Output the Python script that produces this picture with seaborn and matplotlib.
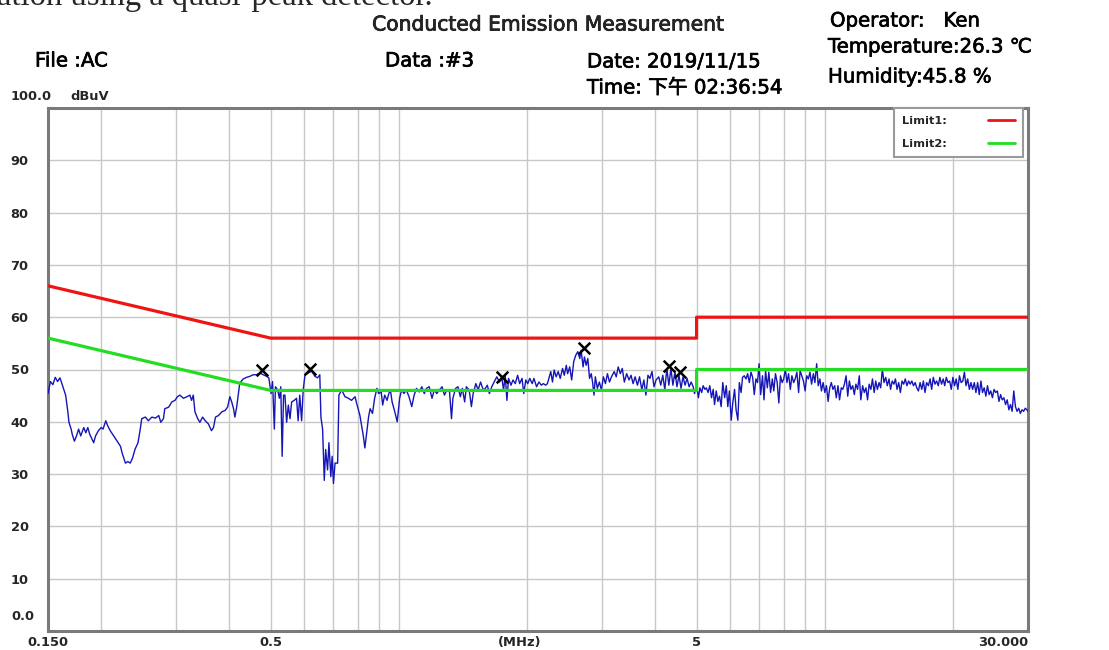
import matplotlib
matplotlib.use("Agg")
import matplotlib.pyplot as plt
import matplotlib.patheffects as pe
from matplotlib.lines import Line2D
from matplotlib.ticker import LogLocator, NullFormatter
import seaborn as sns
import pandas as pd

scan_low = [
    (0.150, 45.4), (0.152, 47.7), (0.154, 47.1), (0.156, 48.5), (0.158, 47.7), (0.160, 48.4), (0.162, 47.1),
    (0.165, 45.1), (0.167, 41.9), (0.168, 39.9), (0.170, 38.6), (0.171, 37.6), (0.173, 36.3), (0.175, 37.3),
    (0.177, 38.6), (0.179, 37.3), (0.182, 38.9), (0.184, 37.9), (0.186, 38.9), (0.188, 37.6), (0.192, 36.0),
    (0.194, 37.3), (0.197, 38.3), (0.200, 38.9), (0.202, 38.6), (0.205, 40.2), (0.207, 39.3), (0.210, 38.3),
    (0.214, 37.3), (0.218, 36.3), (0.222, 35.3), (0.224, 34.0), (0.228, 32.1), (0.231, 32.4), (0.234, 32.1),
    (0.237, 33.1), (0.240, 34.7), (0.244, 36.0), (0.247, 38.6), (0.249, 40.6), (0.254, 40.9), (0.258, 40.2),
    (0.263, 40.9), (0.268, 40.7), (0.273, 41.2), (0.276, 39.9), (0.280, 40.6), (0.282, 42.5), (0.288, 42.8),
    (0.293, 43.8), (0.298, 44.1), (0.302, 44.8), (0.306, 45.1), (0.312, 44.5), (0.318, 44.8), (0.323, 45.1),
    (0.326, 44.1), (0.329, 45.1), (0.332, 41.9), (0.337, 40.6), (0.341, 39.9), (0.346, 40.9), (0.351, 40.2),
    (0.357, 39.6), (0.363, 38.3), (0.367, 38.9), (0.371, 40.9), (0.377, 41.2), (0.384, 41.9), (0.391, 42.2),
    (0.396, 42.8), (0.401, 44.8), (0.405, 43.8), (0.409, 42.5), (0.412, 40.9), (0.416, 42.8), (0.420, 45.4),
    (0.423, 47.4), (0.431, 48.2), (0.439, 48.5), (0.447, 48.7), (0.455, 49.0), (0.463, 49.0), (0.472, 49.3),
    (0.480, 49.0), (0.489, 48.7), (0.495, 48.4), (0.501, 45.4), (0.505, 47.7), (0.510, 38.6), (0.513, 46.7),
    (0.519, 46.1), (0.524, 44.5), (0.528, 46.7), (0.532, 33.4), (0.536, 45.1), (0.540, 45.1), (0.545, 39.9),
    (0.550, 43.2), (0.555, 40.6), (0.560, 43.8), (0.568, 44.1), (0.575, 44.5), (0.580, 40.2), (0.585, 45.1),
    (0.591, 40.2), (0.596, 46.1), (0.602, 49.0), (0.612, 49.3), (0.624, 49.7), (0.635, 48.7), (0.644, 48.4),
    (0.652, 49.0), (0.656, 40.9), (0.662, 38.6), (0.668, 28.8), (0.673, 34.7), (0.680, 30.8), (0.685, 36.0),
    (0.692, 29.5), (0.697, 33.4), (0.702, 28.2), (0.708, 32.1), (0.718, 32.1), (0.723, 45.1), (0.734, 46.1),
    (0.747, 44.8), (0.761, 44.5), (0.774, 44.1), (0.789, 44.8), (0.796, 43.5), (0.810, 41.2), (0.825, 37.3),
    (0.832, 35.0),
]

scan_mid = [
    (0.849, 41.0), (0.856, 42.5), (0.867, 41.6), (0.877, 44.5), (0.888, 46.4), (0.896, 45.4), (0.909, 45.7),
    (0.916, 43.2), (0.926, 45.1), (0.938, 44.1), (0.947, 45.4), (0.955, 46.1), (0.964, 43.8), (0.978, 41.9),
    (0.991, 40.0), (1.004, 44.5), (1.015, 46.1), (1.028, 45.4), (1.041, 46.1), (1.056, 44.8), (1.072, 42.9),
    (1.086, 45.1), (1.100, 46.4), (1.116, 45.7), (1.132, 46.7), (1.147, 45.4), (1.161, 46.4), (1.178, 46.7),
    (1.196, 44.5), (1.211, 46.1), (1.227, 45.4), (1.245, 46.1), (1.263, 46.7), (1.279, 45.1), (1.296, 46.1),
    (1.315, 45.7), (1.329, 40.6), (1.339, 44.5), (1.359, 46.4), (1.376, 46.7), (1.394, 44.8), (1.409, 46.4),
    (1.427, 43.8), (1.440, 46.7), (1.462, 46.1), (1.480, 42.9), (1.494, 45.4), (1.516, 47.3), (1.535, 46.1),
    (1.555, 47.6), (1.578, 46.1), (1.596, 46.4), (1.613, 47.0), (1.631, 45.4), (1.652, 46.7), (1.673, 47.6),
    (1.698, 48.6), (1.722, 47.6), (1.745, 48.3), (1.761, 46.1), (1.777, 48.9), (1.793, 44.1), (1.809, 48.3),
    (1.833, 47.0), (1.853, 48.0), (1.876, 47.3), (1.900, 48.9), (1.921, 47.3), (1.946, 48.3), (1.964, 45.4),
    (1.986, 48.0), (2.007, 47.3), (2.029, 48.3), (2.056, 47.3), (2.075, 48.3), (2.105, 46.7), (2.132, 47.6),
    (2.160, 47.0), (2.183, 47.3), (2.211, 47.0), (2.232, 47.3), (2.273, 49.6), (2.294, 47.6), (2.315, 49.9),
    (2.340, 48.6), (2.366, 49.6), (2.392, 48.3), (2.423, 50.2), (2.445, 48.9), (2.472, 50.8), (2.490, 49.2),
    (2.518, 50.5), (2.545, 48.0), (2.573, 51.5), (2.601, 52.7), (2.630, 53.4), (2.659, 52.1), (2.678, 53.7),
    (2.707, 50.5), (2.727, 52.4), (2.752, 50.8), (2.777, 52.1), (2.803, 48.3), (2.829, 49.2), (2.849, 47.6),
    (2.871, 45.1), (2.892, 48.6), (2.924, 46.4), (2.956, 47.6), (2.988, 46.1), (3.021, 48.6), (3.054, 47.3),
    (3.088, 49.2), (3.122, 47.6), (3.156, 48.6), (3.203, 49.6), (3.238, 48.6), (3.273, 50.5), (3.310, 49.2),
    (3.346, 50.2), (3.383, 47.6), (3.426, 49.2), (3.470, 48.0), (3.508, 48.9), (3.547, 47.3), (3.586, 48.6),
    (3.632, 47.0), (3.673, 48.6), (3.719, 46.1), (3.760, 48.0), (3.802, 45.1), (3.844, 48.9), (3.886, 48.3),
    (3.929, 49.6), (3.972, 46.7), (4.016, 48.0), (4.075, 48.6), (4.120, 47.0), (4.165, 48.9), (4.211, 46.1),
    (4.257, 50.2), (4.304, 47.0), (4.352, 50.2), (4.399, 47.0), (4.448, 49.6), (4.497, 46.7), (4.546, 48.9),
    (4.596, 46.4), (4.647, 48.6), (4.698, 47.0), (4.750, 48.3), (4.802, 46.7), (4.855, 47.6), (4.909, 46.7),
    (4.945, 45.4), (4.999, 47.0),
]

scan_high = [
    (5.05, 44.6), (5.09, 46.5), (5.14, 45.6), (5.18, 46.9), (5.23, 46.2), (5.27, 46.5), (5.32, 45.6),
    (5.37, 46.9), (5.42, 44.6), (5.47, 46.2), (5.51, 43.3), (5.56, 45.9), (5.61, 43.9), (5.66, 44.9),
    (5.71, 42.9), (5.76, 47.5), (5.82, 44.6), (5.87, 46.9), (5.92, 42.9), (5.97, 45.9), (6.03, 40.3),
    (6.08, 43.6), (6.14, 46.2), (6.19, 42.3), (6.25, 40.3), (6.30, 47.5), (6.36, 45.6), (6.41, 48.5),
    (6.47, 48.8), (6.53, 48.2), (6.59, 49.2), (6.65, 47.5), (6.71, 49.5), (6.77, 48.5), (6.83, 45.2),
    (6.89, 48.2), (6.95, 47.5), (7.01, 51.1), (7.07, 45.2), (7.14, 48.8), (7.20, 44.2), (7.26, 49.8),
    (7.33, 46.5), (7.39, 49.5), (7.46, 45.6), (7.53, 48.2), (7.59, 45.9), (7.66, 49.2), (7.73, 47.5),
    (7.80, 43.6), (7.87, 48.8), (7.94, 47.5), (8.01, 48.2), (8.08, 50.1), (8.15, 47.5), (8.22, 49.2),
    (8.30, 46.2), (8.37, 48.8), (8.45, 47.5), (8.52, 48.2), (8.60, 49.5), (8.68, 45.6), (8.75, 49.8),
    (8.83, 48.8), (8.91, 47.8), (8.99, 45.9), (9.07, 48.8), (9.15, 48.2), (9.23, 49.5), (9.31, 47.2),
    (9.40, 49.2), (9.48, 47.5), (9.57, 51.1), (9.65, 46.9), (9.74, 48.2), (9.82, 45.9), (9.91, 47.5),
    (10.00, 45.6), (10.09, 46.9), (10.18, 43.9), (10.27, 46.5), (10.36, 47.5), (10.45, 46.2), (10.55, 46.9),
    (10.64, 44.6), (10.74, 46.9), (10.83, 44.2), (10.93, 46.5), (11.02, 46.2), (11.12, 47.2), (11.22, 48.8),
    (11.32, 44.9), (11.42, 47.8), (11.52, 46.2), (11.63, 46.9), (11.73, 45.2), (11.83, 47.2), (11.94, 46.2),
    (12.05, 48.8), (12.15, 44.2), (12.27, 46.9), (12.38, 45.6), (12.49, 46.5), (12.60, 44.2), (12.71, 47.2),
    (12.83, 46.2), (12.94, 48.2), (13.06, 45.6), (13.17, 47.8), (13.29, 46.2), (13.41, 47.5), (13.53, 46.5),
    (13.65, 50.1), (13.77, 47.5), (13.90, 48.5), (14.02, 46.9), (14.15, 48.2), (14.27, 46.2), (14.40, 47.8),
    (14.53, 47.2), (14.65, 48.2), (14.78, 46.2), (14.91, 47.5), (15.05, 45.6), (15.18, 47.8), (15.32, 47.2),
    (15.45, 48.2), (15.59, 46.9), (15.73, 47.8), (15.87, 47.2), (16.01, 47.8), (16.15, 46.9), (16.30, 47.5),
    (16.44, 46.5), (16.59, 45.9), (16.74, 47.5), (16.89, 46.2), (17.04, 47.8), (17.19, 45.6), (17.34, 47.5),
    (17.51, 46.9), (17.67, 48.2), (17.82, 46.2), (17.98, 48.5), (18.14, 47.2), (18.30, 47.8), (18.47, 46.9),
    (18.63, 48.5), (18.80, 47.2), (18.97, 48.2), (19.12, 46.9), (19.29, 48.5), (19.46, 47.5), (19.64, 47.8),
    (19.81, 46.2), (19.99, 48.5), (20.17, 46.9), (20.35, 48.2), (20.53, 46.2), (20.71, 48.8), (20.90, 47.5),
    (21.09, 47.8), (21.27, 49.5), (21.46, 46.9), (21.65, 48.2), (21.85, 46.2), (22.04, 47.5), (22.24, 46.2),
    (22.44, 47.5), (22.64, 45.6), (22.85, 47.5), (23.05, 45.2), (23.26, 47.8), (23.46, 45.6), (23.67, 46.5),
    (23.89, 44.9), (24.10, 46.9), (24.32, 45.2), (24.53, 45.9), (24.75, 44.6), (24.97, 46.2), (25.19, 45.6),
    (25.42, 45.9), (25.64, 43.9), (25.87, 45.2), (26.10, 44.2), (26.34, 44.6), (26.57, 43.3), (26.81, 44.2),
    (27.05, 42.3), (27.29, 43.3), (27.53, 42.0), (27.78, 45.9), (28.03, 42.9), (28.28, 42.0), (28.53, 42.6),
    (28.78, 41.6), (29.04, 42.3), (29.30, 42.0), (29.56, 42.6), (29.82, 42.3), (30.00, 42.0),
]

# limit lines (EN 55032 class B style)
limit_freq = [0.15, 0.5, 0.5, 5, 5, 30]
limit1_level = [66, 56, 56, 56, 60, 60]
limit2_level = [56, 46, 46, 46, 50, 50]

# marked peaks
peak_freq = [0.476, 0.618, 1.746, 2.715, 4.30, 4.56]
peak_level = [49.9, 50.1, 48.6, 54.2, 50.6, 49.5]

x_labels = ["0.150", "0.5", "(MHz)", "5", "30.000"]
x_label_pos = [0.15, 0.5, 1.92, 5, 30]
y_ticks = [10, 20, 30, 40, 50, 60, 70, 80, 90]

RED = "#ee1414"
GREEN = "#22dd22"
BLUE = "#1515b8"

sns.set_style("white")
plt.rcParams["font.family"] = ["DejaVu Sans", "Noto Sans CJK SC"]

fig = plt.figure(figsize=(11.09, 6.5), dpi=100)
ax = fig.add_axes([48 / 1109, 19 / 650, 980 / 1109, 523 / 650])

trace = pd.DataFrame(scan_low + scan_mid + scan_high, columns=["freq", "level"])
sns.lineplot(data=trace, x="freq", y="level", ax=ax, color=BLUE, lw=1.0,
             sort=False, estimator=None, zorder=3)

limits = pd.DataFrame({
    "freq": limit_freq + limit_freq,
    "level": limit1_level + limit2_level,
    "name": ["Limit1:"] * len(limit_freq) + ["Limit2:"] * len(limit_freq),
})
sns.lineplot(data=limits, x="freq", y="level", hue="name", ax=ax,
             palette={"Limit1:": RED, "Limit2:": GREEN}, lw=2.3,
             sort=False, estimator=None, legend=False, zorder=4)

sns.scatterplot(x=peak_freq, y=peak_level, ax=ax, marker="x", s=70,
                color="black", linewidth=1.8, zorder=5, legend=False)

ax.set_xscale("log")
ax.set_xlim(0.15, 30)
ax.set_ylim(0, 100)
ax.set_xlabel("")
ax.set_ylabel("")

# grid: log minor lines vertically, every 10 dB horizontally
ax.xaxis.remove_overlapping_locs = False
ax.xaxis.set_minor_locator(LogLocator(base=10, subs=range(1, 10), numticks=30))
ax.xaxis.set_minor_formatter(NullFormatter())
ax.set_xticks(x_label_pos)
ax.set_xticklabels(x_labels)
ax.set_yticks(y_ticks)
ax.set_yticklabels([str(v) for v in y_ticks])
ax.grid(False)
ax.xaxis.grid(True, which="minor", color="#c8c8c8", lw=1.0)
ax.yaxis.grid(True, which="major", color="#c8c8c8", lw=1.0)
ax.set_axisbelow(True)

ax.tick_params(which="both", length=0)
ax.tick_params(axis="x", pad=3.5, labelsize=9.4)
ax.tick_params(axis="y", pad=27, labelsize=9.4)
for lab in ax.get_xticklabels() + ax.get_yticklabels():
    lab.set_fontweight("bold")
for lab in ax.get_yticklabels():
    lab.set_horizontalalignment("left")
ax.get_xticklabels()[-1].set_horizontalalignment("right")

for s in ax.spines.values():
    s.set_color("#7a7a7a")
    s.set_linewidth(2.2)

handles = [Line2D([], [], color=RED, lw=2.0), Line2D([], [], color=GREEN, lw=2.0)]
leg = ax.legend(handles, ["Limit1:", "Limit2:"], loc="upper right",
                bbox_to_anchor=(1 - 5 / 980, 1.0), borderaxespad=0,
                markerfirst=False, frameon=True, fancybox=False, framealpha=1,
                edgecolor="#9a9a9a", prop={"weight": "bold", "size": 8.2},
                handlelength=2.4, handletextpad=3.6, labelspacing=1.15,
                borderpad=0.7)
leg.get_frame().set_linewidth(1.5)

# header texts
def px(x, y):
    return x / 1109, 1 - y / 650

heavy = [pe.withStroke(linewidth=0.5, foreground="black")]
hdr = dict(fontsize=14.2, va="center", ha="left", color="black", path_effects=heavy)
fig.text(*px(-3, 5), "ation using a quasi-peak detector.", fontsize=23.5,
         family="Liberation Serif", va="baseline", ha="left")
fig.text(*px(548, 25), "Conducted Emission Measurement", fontsize=14.6,
         va="center", ha="center", path_effects=heavy)
fig.text(*px(35, 61), "File :AC", **hdr)
fig.text(*px(385, 61), "Data :#3", **hdr)
fig.text(*px(587, 62), "Date: 2019/11/15", **hdr)
fig.text(*px(587, 88), "Time: 下午 02:36:54", **hdr)
fig.text(*px(830, 21), "Operator:   Ken", **hdr)
fig.text(*px(828, 47), "Temperature:26.3 ℃", **hdr)
fig.text(*px(828, 77), "Humidity:45.8 %", **hdr)

small = dict(fontsize=9.4, fontweight="bold", va="center", ha="left")
fig.text(*px(11, 97), "100.0", **small)
fig.text(*px(70, 97), "dBuV", **small)
fig.text(*px(11, 617), "0.0", **small)

fig.savefig("out.png", dpi=100)
